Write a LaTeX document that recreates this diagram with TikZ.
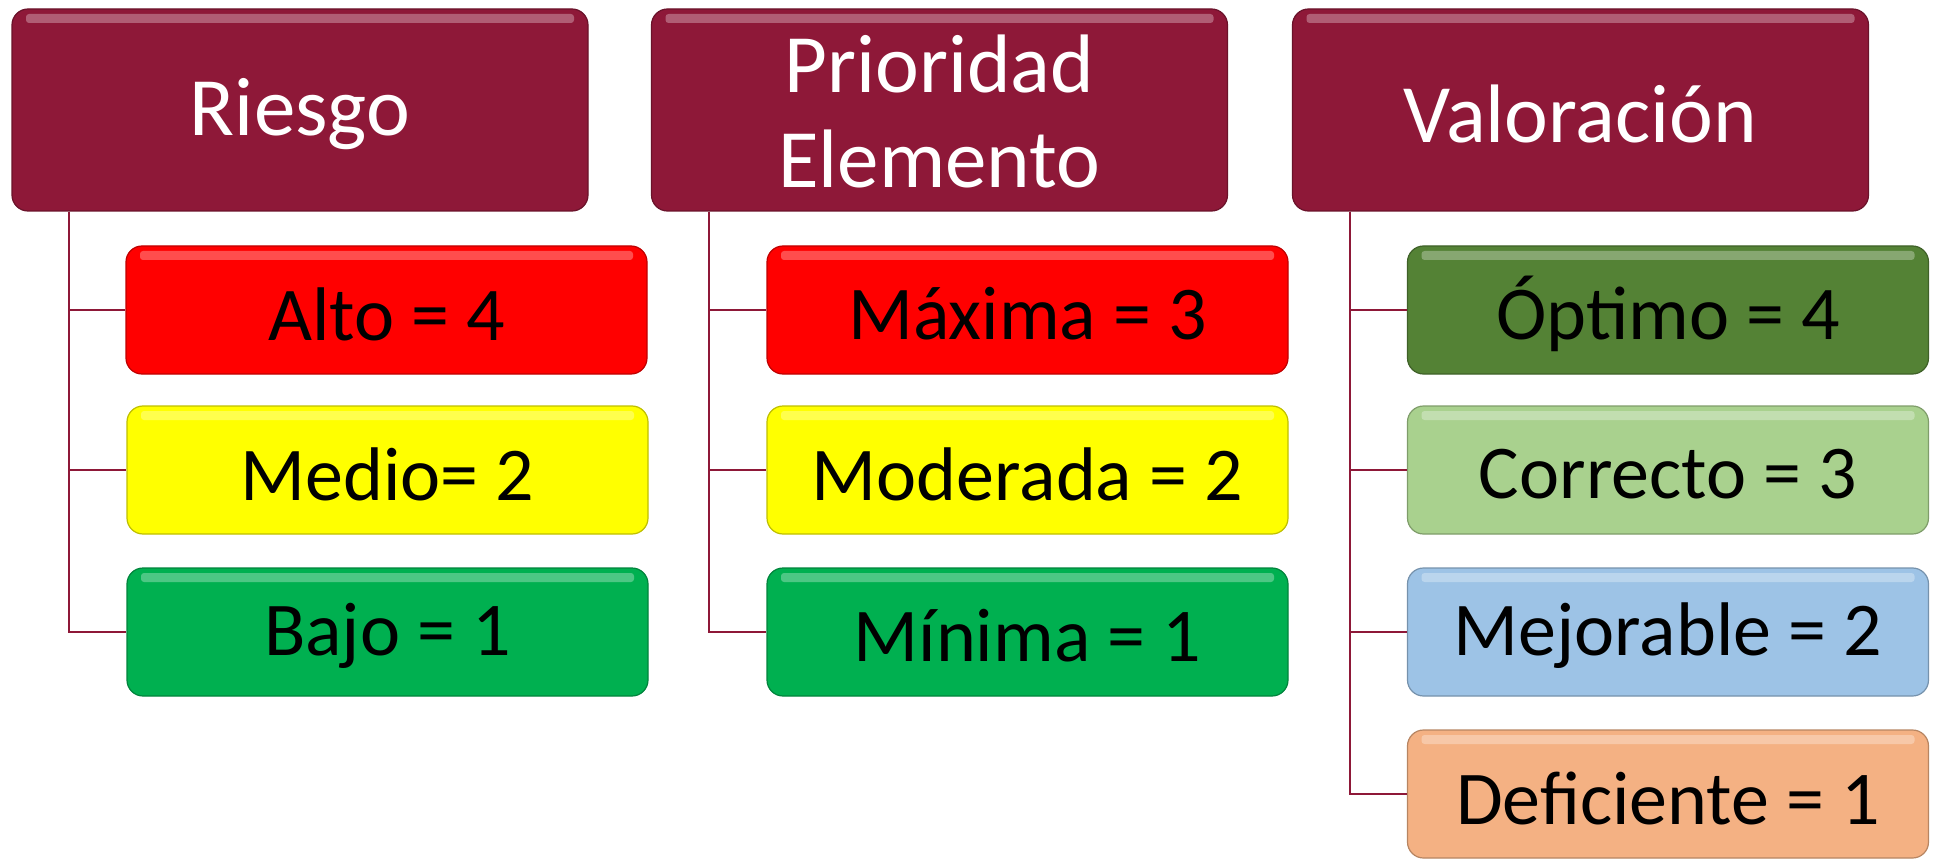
\documentclass[tikz,border=0pt]{standalone}
\usepackage{fontspec}
\setmainfont{Carlito}
\usetikzlibrary{calc}
\definecolor{burg}{HTML}{8E1838}
\definecolor{cred}{HTML}{FF0000}
\definecolor{cyel}{HTML}{FFFF00}
\definecolor{cgrn}{HTML}{00B050}
\definecolor{cdgrn}{HTML}{548235}
\definecolor{clgrn}{HTML}{A9D18E}
\definecolor{cblue}{HTML}{9DC3E6}
\definecolor{corg}{HTML}{F4B183}
\newcommand{\lowtext}[2]{\raisebox{-#1pt}[\height][\depth]{#2}}
\tikzset{
  glossy/.style={rounded corners=16pt, draw=#1!75!black, line width=1.2pt, fill=#1,
    path picture={\fill[white,opacity=0.3,rounded corners=3pt]
      ($(path picture bounding box.north west)+(14pt,-5pt)$) rectangle
      ($(path picture bounding box.north east)+(-14pt,-14pt)$);}},
  header/.style={glossy=burg, minimum width=576pt, minimum height=202pt, inner sep=0pt,
    text=white, font=\fontsize{83}{95}\selectfont},
  child/.style={glossy=#1, minimum width=521pt, minimum height=128pt, inner sep=0pt,
    text=black, font=\fontsize{76}{85}\selectfont},
  conn/.style={draw=burg, line width=2pt}
}
\begin{document}
\begin{tikzpicture}[x=1pt,y=-1pt]
\useasboundingbox (0,0) rectangle (1936,861);
% column 1
\node[header] (h1) at (300,110) {\lowtext{4}{Riesgo}};
\node[child=cred] (a1) at (386.5,310) {\lowtext{4}{Alto = 4}};
\node[child=cyel] (a2) at (387.5,470) {\lowtext{4}{Medio= 2}};
\node[child=cgrn] (a3) at (387.5,632) {\lowtext{4}{Bajo = 1}};
% column 2
\node[header] (h2) at (939.5,110) {\lowtext{11}{\begin{tabular}{@{}c@{}}Prioridad\\Elemento\end{tabular}}};
\node[child=cred] (b1) at (1027.5,310) {\lowtext{4}{Máxima = 3}};
\node[child=cyel] (b2) at (1027.5,470) {\lowtext{4}{Moderada = 2}};
\node[child=cgrn] (b3) at (1027.5,632) {\lowtext{4}{Mínima = 1}};
% column 3
\node[header] (h3) at (1580.5,110) {\lowtext{4}{Valoración}};
\node[child=cdgrn] (c1) at (1668,310) {\lowtext{4}{Óptimo = 4}};
\node[child=clgrn] (c2) at (1668,470) {\lowtext{4}{Correcto = 3}};
\node[child=cblue] (c3) at (1668,632) {\lowtext{4}{Mejorable = 2}};
\node[child=corg] (c4) at (1668,794) {\lowtext{4}{Deficiente = 1}};
% connectors
\coordinate (t1) at ([xshift=58pt]h1.south west);
\coordinate (t2) at ([xshift=58pt]h2.south west);
\coordinate (t3) at ([xshift=58pt]h3.south west);
\foreach \n in {a1,a2,a3}{\draw[conn] (t1) |- (\n.west);}
\foreach \n in {b1,b2,b3}{\draw[conn] (t2) |- (\n.west);}
\foreach \n in {c1,c2,c3,c4}{\draw[conn] (t3) |- (\n.west);}
\end{tikzpicture}
\end{document}
